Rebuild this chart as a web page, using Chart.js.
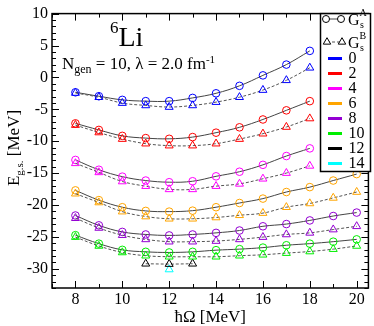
<!DOCTYPE html>
<html><head><meta charset="utf-8">
<script src="https://cdn.jsdelivr.net/npm/chart.js@4/dist/chart.umd.min.js"></script>
<style>html,body{margin:0;padding:0;background:#fff}#wrap{width:374px;height:326px}</style>
</head><body><div id="wrap"><canvas id="c" width="374" height="326"></canvas></div>
<script>
// ---- data ----
const hOmega = [8, 9, 10, 11, 12, 13, 14, 15, 16, 17, 18, 19, 20];
const nmaxLabels = ['0', '2', '4', '6', '8', '10', '12', '14'];

// G_s^A (circles)
const gsA_0  = [-2.33, -2.95, -3.52, -3.72, -3.72, -3.21, -2.49, -1.32, 0.32, 2.01, 4.16, null, null];
const gsA_2  = [-7.20, -8.23, -9.16, -9.51, -9.62, -9.35, -8.66, -7.82, -6.59, -5.16, -3.72, null, null];
const gsA_4  = [-12.93, -14.47, -15.55, -16.16, -16.42, -16.27, -15.50, -14.78, -13.70, -12.32, -11.12, null, null];
const gsA_6  = [-17.70, -19.23, -20.34, -20.92, -21.03, -20.88, -20.34, -19.68, -18.99, -17.96, -17.19, -16.16, -15.15];
const gsA_8  = [-21.64, -23.18, -24.21, -24.61, -24.76, -24.61, -24.36, -23.99, -23.33, -22.98, -22.41, -21.72, -21.18];
const gsA_10 = [-24.72, -26.05, -27.02, -27.33, -27.43, -27.33, -27.07, -26.91, -26.67, -26.30, -26.05, -25.74, -25.38];
const gsA_12 = [null, null, null, null, null, null, null, null, null, null, null, null, null];
const gsA_14 = [null, null, null, null, null, null, null, null, null, null, null, null, null];

// G_s^B (triangles)
const gsB_0  = [-2.44, -3.10, -4.02, -4.39, -4.64, -4.39, -3.87, -3.10, -1.98, -0.45, 1.51, null, null];
const gsB_2  = [-7.47, -8.63, -9.66, -10.38, -10.69, -10.69, -10.38, -9.66, -8.82, -7.77, -6.44, null, null];
const gsB_4  = [-13.46, -14.88, -16.31, -17.04, -17.54, -17.54, -17.04, -16.68, -15.88, -14.99, -13.86, null, null];
const gsB_6  = [-18.22, -19.60, -21.03, -21.80, -22.15, -22.15, -21.95, -21.60, -21.26, -20.34, -19.75, -18.88, -17.96];
const gsB_8  = [-22.06, -23.59, -24.72, -25.38, -25.74, -25.74, -25.64, -25.38, -25.02, -24.61, -24.36, -23.84, -23.33];
const gsB_10 = [-25.02, -26.41, -27.43, -27.94, -28.10, -28.10, -28.10, -27.94, -27.79, -27.53, -27.28, -26.91, -26.41];
const gsB_12 = [null, null, null, -29.20, -29.25, -29.20, null, null, null, null, null, null, null];
const gsB_14 = [null, null, null, null, -30.10, null, null, null, null, null, null, null, null];

const yTickValues = [-30, -25, -20, -15, -10, -5, 0, 5, 10];
const xTickValues = [8, 10, 12, 14, 16, 18, 20];

// ---- styles ----
const seriesA = [gsA_0, gsA_2, gsA_4, gsA_6, gsA_8, gsA_10, gsA_12, gsA_14];
const seriesB = [gsB_0, gsB_2, gsB_4, gsB_6, gsB_8, gsB_10, gsB_12, gsB_14];
const colors = ['#0000ff', '#ff0000', '#ff00ff', '#ffa500', '#9400d3', '#00ee00', '#000000', '#00ffff'];
const FONT = '"Liberation Serif", "Times New Roman", serif';

function pts(arr) {
  return hOmega.map((h, i) => ({ x: h, y: arr[i] })).filter(p => p.y !== null);
}

const datasets = [];
seriesB.forEach((arr, i) => {
  const d = pts(arr);
  if (!d.length) return;
  datasets.push({
    data: d, borderColor: '#555', borderWidth: 1, borderDash: [3, 2],
    pointStyle: 'triangle', pointRadius: 4.6, pointBorderWidth: 1,
    pointBorderColor: colors[i], pointBackgroundColor: 'rgba(0,0,0,0)',
    tension: 0.4, fill: false
  });
});
seriesA.forEach((arr, i) => {
  const d = pts(arr);
  if (!d.length) return;
  datasets.push({
    data: d, borderColor: '#444', borderWidth: 1,
    pointStyle: 'circle', pointRadius: 3.8, pointBorderWidth: 1,
    pointBorderColor: colors[i], pointBackgroundColor: 'rgba(0,0,0,0)',
    tension: 0.4, fill: false
  });
});

function line(ctx, x1, y1, x2, y2) { ctx.beginPath(); ctx.moveTo(x1, y1); ctx.lineTo(x2, y2); ctx.stroke(); }
function setFont(ctx, s) { ctx.font = s + 'px ' + FONT; }
// parts: [text, size, baselineOffset]
function rich(ctx, x, y, parts, align) {
  let w = 0;
  parts.forEach(p => { setFont(ctx, p[1]); w += ctx.measureText(p[0]).width; });
  let cx = align === 'center' ? x - w / 2 : x;
  ctx.textAlign = 'left'; ctx.textBaseline = 'alphabetic';
  parts.forEach(p => { setFont(ctx, p[1]); ctx.fillText(p[0], cx, y + (p[2] || 0)); cx += ctx.measureText(p[0]).width; });
}

const deco = {
  id: 'deco',
  beforeDraw(chart) {
    const c = chart.ctx; c.save(); c.fillStyle = '#fff'; c.fillRect(0, 0, chart.width, chart.height); c.restore();
  },
  afterDatasetsDraw(chart) {
    const { ctx, chartArea: a, scales: { x, y } } = chart;
    ctx.save();
    ctx.strokeStyle = '#000'; ctx.fillStyle = '#000';
    // ticks (inward, all sides)
    ctx.lineWidth = 1;
    for (let v = Math.ceil(y.min); v <= y.max; v++) {
      const py = Math.round(y.getPixelForValue(v)) + 0.5;
      const L = v % 5 === 0 ? 7 : 4;
      line(ctx, a.left, py, a.left + L, py);
      line(ctx, a.right, py, a.right - L, py);
    }
    for (let v = Math.ceil(x.min); v <= x.max; v++) {
      const px = Math.round(x.getPixelForValue(v)) + 0.5;
      const L = v % 2 === 0 ? 7 : 4;
      line(ctx, px, a.bottom, px, a.bottom - L);
      line(ctx, px, a.top, px, a.top + L);
    }
    // frame
    ctx.lineWidth = 1.5;
    ctx.strokeRect(a.left, a.top, a.right - a.left, a.bottom - a.top);

    // annotations
    rich(ctx, 110, 46, [['6', 17, -13], ['Li', 28, 0]], 'left');
    rich(ctx, 62, 69, [['N', 17, 0], ['gen', 12, 4], [' = 10, \u03bb = 2.0 fm', 17, 0], ['-1', 11, -6]], 'left');

    // legend box
    const lx = 320.5, ly = a.top, lw = 50, lh = 171.5 - a.top;
    ctx.fillStyle = '#fff'; ctx.fillRect(lx, ly, lw, lh);
    ctx.lineWidth = 1.5; ctx.strokeStyle = '#000'; ctx.strokeRect(lx, ly, lw, lh);
    ctx.fillStyle = '#000';
    // G_s^A entry
    ctx.lineWidth = 1; ctx.strokeStyle = '#444';
    line(ctx, 326, 19, 341, 19);
    [326, 341].forEach(cx => { ctx.beginPath(); ctx.arc(cx, 19, 3.5, 0, Math.PI * 2); ctx.fillStyle = '#fff'; ctx.fill(); ctx.strokeStyle = '#000'; ctx.stroke(); });
    // G_s^B entry
    ctx.strokeStyle = '#555'; ctx.setLineDash([3, 2]);
    line(ctx, 327, 42, 342, 42);
    ctx.setLineDash([]);
    [327, 342].forEach(cx => {
      const r = 4.3;
      ctx.beginPath();
      ctx.moveTo(cx, 42 - r);
      ctx.lineTo(cx + r * 0.866, 42 + r * 0.5);
      ctx.lineTo(cx - r * 0.866, 42 + r * 0.5);
      ctx.closePath(); ctx.fillStyle = '#fff'; ctx.fill(); ctx.strokeStyle = '#000'; ctx.stroke();
    });
    ctx.fillStyle = '#000';
    setFont(ctx, 16); ctx.textAlign = 'left'; ctx.textBaseline = 'alphabetic';
    ctx.fillText('G', 348, 25);
    ctx.fillText('G', 348, 48);
    setFont(ctx, 10);
    ctx.fillText('A', 359.5, 15.5); ctx.fillText('s', 360, 27.5);
    ctx.fillText('B', 359.5, 38.5); ctx.fillText('s', 360, 50.5);
    // Nmax entries
    nmaxLabels.forEach((lab, i) => {
      const yy = 58.5 + 15 * i;
      ctx.fillStyle = colors[i];
      ctx.fillRect(328, yy - 1.5, 14, 3);
      ctx.fillStyle = '#000';
      setFont(ctx, 16); ctx.textBaseline = 'middle';
      ctx.fillText(lab, 348.5, yy + 0.5);
    });
    ctx.restore();
  },
  afterDraw(chart) {
    const { ctx, chartArea: a } = chart;
    ctx.save();
    ctx.fillStyle = '#000';
    // x title
    rich(ctx, (a.left + a.right) / 2, 322, [['\u0127\u03a9 [MeV]', 17, 0]], 'center');
    // y title
    ctx.translate(19, 148);
    ctx.rotate(-Math.PI / 2);
    rich(ctx, 0, 0, [['E', 17, 0], ['g.s.', 11, 4], [' [MeV]', 17, 0]], 'center');
    ctx.restore();
  }
};

new Chart(document.getElementById('c'), {
  type: 'line',
  data: { datasets },
  options: {
    responsive: false, animation: false, events: [], devicePixelRatio: 1,
    layout: { padding: { left: 0, right: 2, top: 8, bottom: 0 } },
    plugins: { legend: { display: false }, tooltip: { enabled: false } },
    scales: {
      x: {
        type: 'linear', min: 7, max: 20.5,
        afterBuildTicks: s => { s.ticks = xTickValues.map(v => ({ value: v })); },
        afterFit: s => { s.height = 38; },
        grid: { display: false, drawTicks: false },
        border: { display: false },
        ticks: { padding: 2, color: '#000', font: { family: FONT, size: 16 }, maxRotation: 0, autoSkip: false }
      },
      y: {
        type: 'linear', min: -33, max: 10,
        afterBuildTicks: s => { s.ticks = yTickValues.map(v => ({ value: v })); },
        afterFit: s => { s.width = 52; },
        grid: { display: false, drawTicks: false },
        border: { display: false },
        ticks: { padding: 4, color: '#000', font: { family: FONT, size: 16 }, autoSkip: false }
      }
    }
  },
  plugins: [deco]
});
</script>
</body></html>
